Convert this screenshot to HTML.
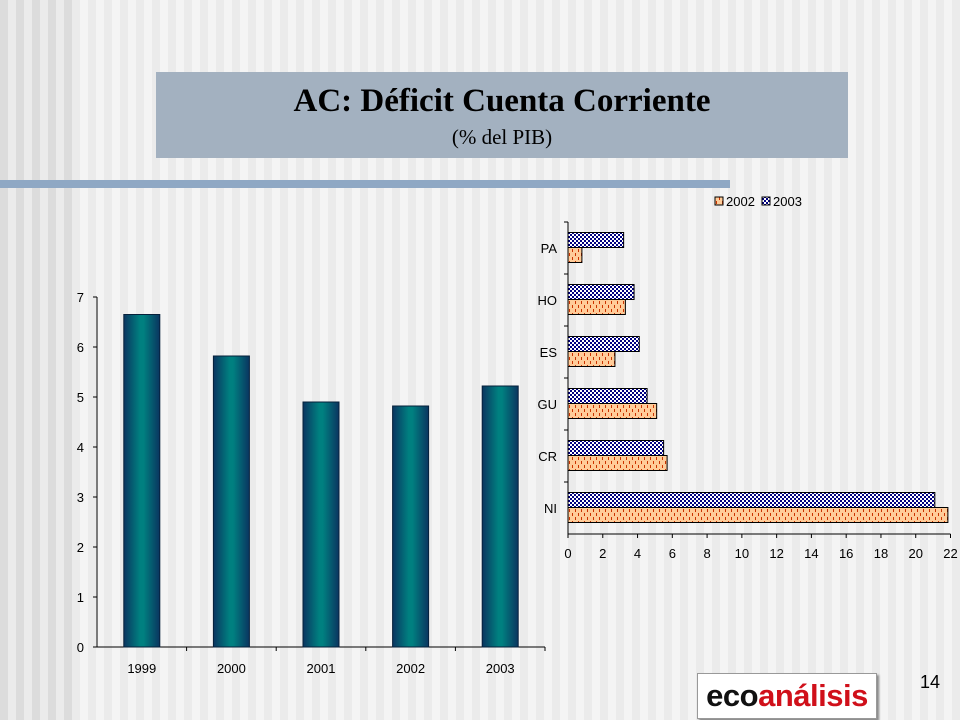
<!DOCTYPE html>
<html><head><meta charset="utf-8"><style>
body{margin:0;width:960px;height:720px;overflow:hidden;font-family:"Liberation Sans",sans-serif}
#bg{position:absolute;left:0;top:0;width:960px;height:720px;
background:repeating-linear-gradient(90deg,#f4f4f4 0 8px,#ebebeb 8px 16px)}
#bgl{position:absolute;left:0;top:0;width:72px;height:720px;
background:repeating-linear-gradient(90deg,#dcdcdc 0 8px,#ebebeb 8px 16px)}
#title{position:absolute;left:156px;top:72px;width:692px;height:86px;background:#a3b1c0;text-align:center;font-family:"Liberation Serif",serif;color:#000}
#title .t{font-size:33px;font-weight:bold;margin-top:10px;line-height:38px}
#title .s{font-size:21px;line-height:26px;margin-top:4px}
#rule{position:absolute;left:0;top:180px;width:730px;height:8px;background:#8fa8c4}
#logo{position:absolute;left:697px;top:673px;width:178px;height:44px;background:#fff;border:1px solid #999;box-shadow:2px 2px 2px #888;font-weight:bold;font-size:31px;line-height:44px;text-align:center;letter-spacing:-0.5px}
#pg{position:absolute;left:920px;top:672px;font-size:18px}
svg{position:absolute;left:0;top:0}
</style></head><body>
<div id="bg"></div>
<div id="bgl"></div>
<div id="title"><div class="t">AC: Déficit Cuenta Corriente</div><div class="s">(% del PIB)</div></div>
<div id="rule"></div>
<svg width="960" height="720" id="svg">
<defs>
<linearGradient id="tg" x1="0" x2="1" y1="0" y2="0"><stop offset="0" stop-color="#0a3560"/><stop offset="0.45" stop-color="#008080"/><stop offset="0.55" stop-color="#008080"/><stop offset="1" stop-color="#0a3560"/></linearGradient>
<pattern id="chk" width="4" height="4" patternUnits="userSpaceOnUse"><rect width="4" height="4" fill="#fff"/><rect width="2" height="2" fill="#000080"/><rect x="2" y="2" width="2" height="2" fill="#000080"/></pattern>
<pattern id="dsh" width="6" height="8" patternUnits="userSpaceOnUse"><rect width="6" height="8" fill="#ffcc99"/><rect x="2" y="1" width="1" height="3" fill="#cc3300"/><rect x="5" y="5" width="1" height="3" fill="#cc3300"/></pattern>
</defs>
<g id="left"></g><g id="right"></g>
</svg>
<div id="logo"><span style="color:#111">eco</span><span style="color:#d0101a">análisis</span></div>
<div id="pg">14</div>
<script>
const years=["1999","2000","2001","2002","2003"];
const deficit=[6.65,5.82,4.9,4.82,5.22];
const yTicks=[0,1,2,3,4,5,6,7];
const countries=["PA","HO","ES","GU","CR","NI"];
const v2002=[0.8,3.3,2.7,5.1,5.7,21.85];
const v2003=[3.2,3.8,4.1,4.55,5.5,21.1];
const xTicks=[0,2,4,6,8,10,12,14,16,18,20,22];
const NS="http://www.w3.org/2000/svg";
function mk(p,t,a,txt){const e=document.createElementNS(NS,t);for(const k in a)e.setAttribute(k,a[k]);if(txt!==undefined)e.textContent=txt;p.appendChild(e);return e;}
// left chart
const L=document.getElementById('left');
const y0=647,ppu=50,ax=97,xEnd=545;
const yS=v=>y0-v*ppu;
const band=(xEnd-ax)/years.length;
mk(L,'line',{x1:ax,y1:297,x2:ax,y2:y0,stroke:'#000'});
mk(L,'line',{x1:ax,y1:y0,x2:xEnd,y2:y0,stroke:'#000'});
yTicks.forEach(t=>{mk(L,'line',{x1:ax-4,y1:yS(t),x2:ax,y2:yS(t),stroke:'#000'});
 const tx=mk(L,'text',{x:ax-13,y:yS(t)+5,'font-size':13,'text-anchor':'end'},t);
 
 });
years.forEach((y,i)=>{const cx=ax+band*(i+0.5);
 const r=mk(L,'rect',{x:cx-18,y:yS(deficit[i]),width:36,height:deficit[i]*ppu,fill:'url(#tg)',stroke:'#06203a'});
 
 
 mk(L,'line',{x1:ax+band*(i+1),y1:y0,x2:ax+band*(i+1),y2:y0+4,stroke:'#000'});
 const tx=mk(L,'text',{x:cx,y:673,'font-size':13,'text-anchor':'middle'},y);
 
 });
// right chart
const R=document.getElementById('right');
const rx0=568,rpu=(950.5-568)/22,topY=222,botY=534,rb=(botY-topY)/countries.length;
const xS=v=>rx0+v*rpu;
mk(R,'line',{x1:rx0,y1:topY,x2:rx0,y2:botY,stroke:'#000'});
mk(R,'line',{x1:rx0,y1:botY,x2:xS(22),y2:botY,stroke:'#000'});
xTicks.forEach(t=>{mk(R,'line',{x1:xS(t),y1:botY,x2:xS(t),y2:botY+4,stroke:'#000'});
 const tx=mk(R,'text',{x:xS(t),y:558,'font-size':13,'text-anchor':'middle'},t);
 
 });
countries.forEach((c,i)=>{const b=topY+rb*i;
 mk(R,'line',{x1:rx0-4,y1:b,x2:rx0,y2:b,stroke:'#000'});
 const r3=mk(R,'rect',{x:rx0,y:b+10.5,width:v2003[i]*rpu,height:15,fill:'url(#chk)',stroke:'#000'});
 
 
 const r2=mk(R,'rect',{x:rx0,y:b+25.5,width:v2002[i]*rpu,height:15,fill:'url(#dsh)',stroke:'#000'});
 
 
 const tx=mk(R,'text',{x:557,y:b+rb/2+5,'font-size':13,'text-anchor':'end'},c);
 
 });
// legend
const lg=mk(R,'g',{});


mk(lg,'rect',{x:715,y:197,width:8,height:8,fill:'url(#dsh)',stroke:'#000'});
mk(lg,'text',{x:726,y:206,'font-size':13},'2002');
mk(lg,'rect',{x:762,y:197,width:8,height:8,fill:'url(#chk)',stroke:'#000'});
mk(lg,'text',{x:773,y:206,'font-size':13},'2003');
</script>
</body></html>
